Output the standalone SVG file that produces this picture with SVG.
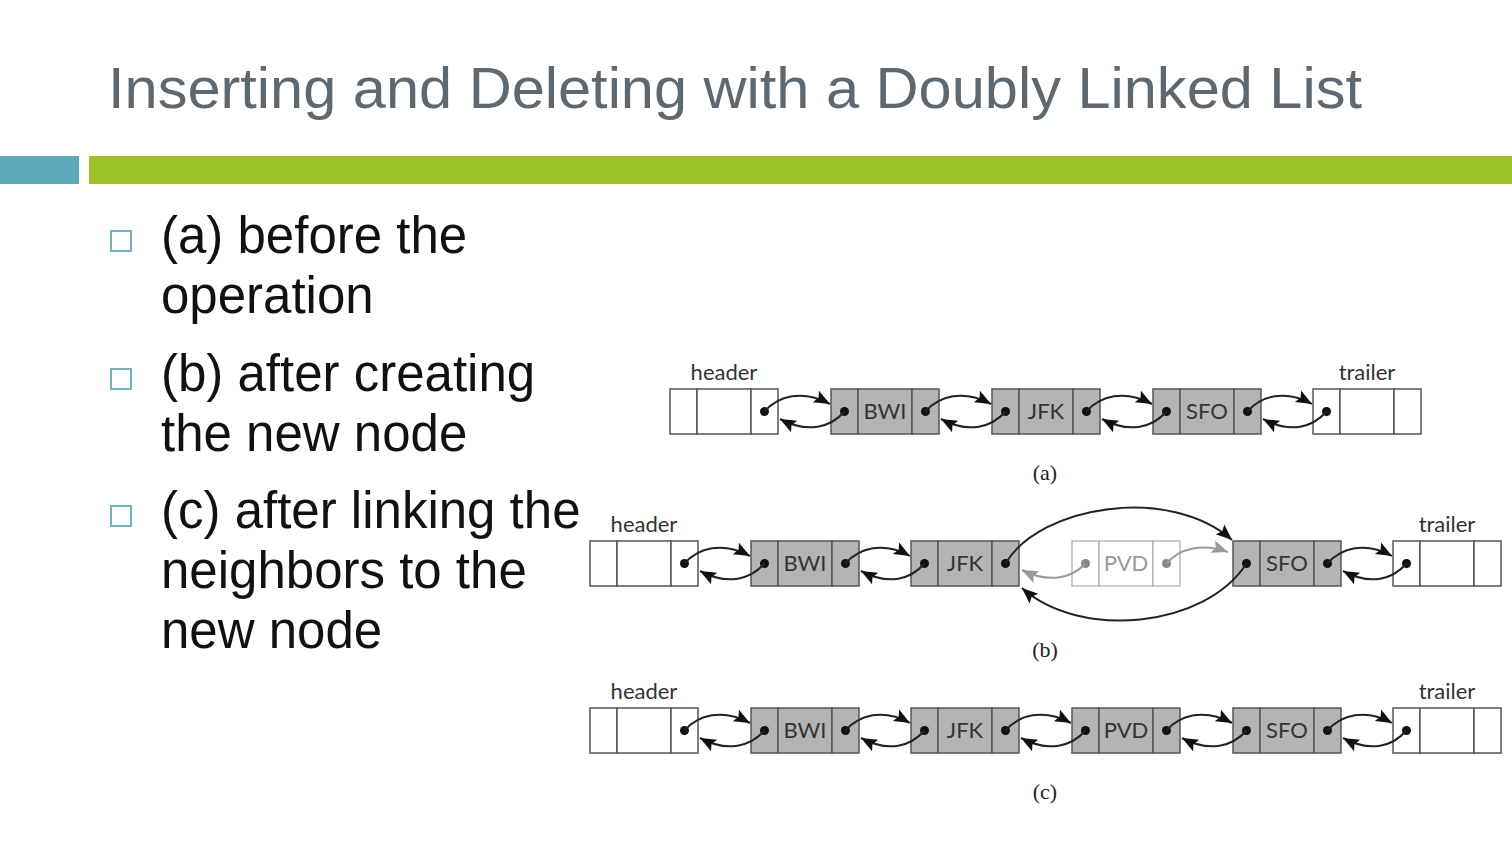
<svg xmlns="http://www.w3.org/2000/svg" width="1512" height="847" viewBox="0 0 1512 847">
  <defs>
    <style>
      .title { font-family: "Liberation Sans", Arial, sans-serif; font-size: 58px; fill: #5d6870; }
      .bullet { font-family: "Liberation Sans", Arial, sans-serif; font-size: 51px; fill: #111; }
      .box { fill: none; stroke: #6fb3bb; stroke-width: 2; }
      .cell { fill: #fff; stroke: #555; stroke-width: 1.5; }
      .full { fill: #b4b4b4; stroke: #555; stroke-width: 1.5; }
      .ghost { fill: #fff; stroke: #aaa; stroke-width: 1.2; }
      .lbl { font-family: Lato, "Noto Sans", sans-serif; font-size: 22px; fill: #333; text-anchor: middle; }
      .glbl { font-family: Lato, "Noto Sans", sans-serif; font-size: 22px; fill: #999; text-anchor: middle; }
      .cap { font-family: "Liberation Serif", serif; font-size: 22px; fill: #222; text-anchor: middle; }
      .dot { fill: #111; }
      .gdot { fill: #888; }
      .link { fill: none; stroke: #222; stroke-width: 2; marker-end: url(#ah); }
      .glink { fill: none; stroke: #999; stroke-width: 2; marker-end: url(#gah); }
    </style>
    <marker id="ah" viewBox="-17 -8 18 16" refX="0" refY="0" markerWidth="18" markerHeight="16" markerUnits="userSpaceOnUse" orient="auto">
      <path d="M0,0 L-16,-6.5 L-13,0 L-16,6.5 z" fill="#111"/>
    </marker>
    <marker id="gah" viewBox="-17 -8 18 16" refX="0" refY="0" markerWidth="18" markerHeight="16" markerUnits="userSpaceOnUse" orient="auto">
      <path d="M0,0 L-16,-6.5 L-13,0 L-16,6.5 z" fill="#999"/>
    </marker>
  </defs>

  <rect width="1512" height="847" fill="#fff"/>

  <!-- slide heading and rule bars -->
  <text class="title" x="108" y="108" textLength="1254" lengthAdjust="spacingAndGlyphs">Inserting and Deleting with a Doubly Linked List</text>
  <rect x="0" y="156" width="79" height="28" fill="#5aaab8"/>
  <rect x="89" y="156" width="1423" height="28" fill="#9cc426"/>

  <!-- bullet list -->
  <g id="bullets">
    <rect class="box" x="111" y="231" width="20" height="20"/>
    <text class="bullet" x="161" y="253">(a) before the</text>
    <text class="bullet" x="161" y="313">operation</text>
    <rect class="box" x="111" y="369" width="20" height="20"/>
    <text class="bullet" x="161" y="391">(b) after creating</text>
    <text class="bullet" x="161" y="451">the new node</text>
    <rect class="box" x="111" y="506" width="20" height="20"/>
    <text class="bullet" x="161" y="528">(c) after linking the</text>
    <text class="bullet" x="161" y="588">neighbors to the</text>
    <text class="bullet" x="161" y="648">new node</text>
  </g>

  <!-- ===== row (a) ===== -->
  <g id="a-header">
    <text class="lbl" x="724" y="380">header</text>
    <rect class="cell" x="670" y="389" width="27" height="45"/>
    <rect class="cell" x="697" y="389" width="54" height="45"/>
    <rect class="cell" x="751" y="389" width="27" height="45"/>
    <circle class="dot" cx="764.5" cy="411.5" r="4.5"/>
  </g>
  <g id="a-bwi">
    <rect class="full" x="831" y="389" width="27" height="45"/>
    <rect class="full" x="858" y="389" width="54" height="45"/>
    <rect class="full" x="912" y="389" width="27" height="45"/>
    <circle class="dot" cx="844.5" cy="411.5" r="4.5"/>
    <circle class="dot" cx="925.5" cy="411.5" r="4.5"/>
    <text class="lbl" x="885" y="419">BWI</text>
  </g>
  <g id="a-jfk">
    <rect class="full" x="992" y="389" width="27" height="45"/>
    <rect class="full" x="1019" y="389" width="54" height="45"/>
    <rect class="full" x="1073" y="389" width="27" height="45"/>
    <circle class="dot" cx="1005.5" cy="411.5" r="4.5"/>
    <circle class="dot" cx="1086.5" cy="411.5" r="4.5"/>
    <text class="lbl" x="1046" y="419">JFK</text>
  </g>
  <g id="a-sfo">
    <rect class="full" x="1153" y="389" width="27" height="45"/>
    <rect class="full" x="1180" y="389" width="54" height="45"/>
    <rect class="full" x="1234" y="389" width="27" height="45"/>
    <circle class="dot" cx="1166.5" cy="411.5" r="4.5"/>
    <circle class="dot" cx="1247.5" cy="411.5" r="4.5"/>
    <text class="lbl" x="1207" y="419">SFO</text>
  </g>
  <g id="a-trailer">
    <text class="lbl" x="1367" y="380">trailer</text>
    <rect class="cell" x="1313" y="389" width="27" height="45"/>
    <rect class="cell" x="1340" y="389" width="54" height="45"/>
    <rect class="cell" x="1394" y="389" width="27" height="45"/>
    <circle class="dot" cx="1326.5" cy="411.5" r="4.5"/>
  </g>
  <g id="a-links">
    <path class="link" d="M764.5,411.5 C778,396 802,389 830,404"/>
    <path class="link" d="M844.5,411.5 C831,427 808,434 780,419"/>
    <path class="link" d="M925.5,411.5 C939,396 963,389 991,404"/>
    <path class="link" d="M1005.5,411.5 C992,427 969,434 941,419"/>
    <path class="link" d="M1086.5,411.5 C1100,396 1124,389 1152,404"/>
    <path class="link" d="M1166.5,411.5 C1153,427 1130,434 1102,419"/>
    <path class="link" d="M1247.5,411.5 C1261,396 1285,389 1312,404"/>
    <path class="link" d="M1326.5,411.5 C1313,427 1291,434 1263,419"/>
  </g>
  <text class="cap" x="1045" y="480">(a)</text>

  <!-- ===== row (b) ===== -->
  <g id="b-header">
    <text class="lbl" x="644" y="532">header</text>
    <rect class="cell" x="590" y="541" width="27" height="45"/>
    <rect class="cell" x="617" y="541" width="54" height="45"/>
    <rect class="cell" x="671" y="541" width="27" height="45"/>
    <circle class="dot" cx="684.5" cy="563.5" r="4.5"/>
  </g>
  <g id="b-bwi">
    <rect class="full" x="751" y="541" width="27" height="45"/>
    <rect class="full" x="778" y="541" width="54" height="45"/>
    <rect class="full" x="832" y="541" width="27" height="45"/>
    <circle class="dot" cx="764.5" cy="563.5" r="4.5"/>
    <circle class="dot" cx="845.5" cy="563.5" r="4.5"/>
    <text class="lbl" x="805" y="571">BWI</text>
  </g>
  <g id="b-jfk">
    <rect class="full" x="911" y="541" width="27" height="45"/>
    <rect class="full" x="938" y="541" width="54" height="45"/>
    <rect class="full" x="992" y="541" width="27" height="45"/>
    <circle class="dot" cx="924.5" cy="563.5" r="4.5"/>
    <circle class="dot" cx="1005.5" cy="563.5" r="4.5"/>
    <text class="lbl" x="965" y="571">JFK</text>
  </g>
  <g id="b-pvd">
    <rect class="ghost" x="1072" y="541" width="27" height="45"/>
    <rect class="ghost" x="1099" y="541" width="54" height="45"/>
    <rect class="ghost" x="1153" y="541" width="27" height="45"/>
    <circle class="gdot" cx="1085.5" cy="563.5" r="4.5"/>
    <circle class="gdot" cx="1166.5" cy="563.5" r="4.5"/>
    <text class="glbl" x="1126" y="571">PVD</text>
  </g>
  <g id="b-sfo">
    <rect class="full" x="1233" y="541" width="27" height="45"/>
    <rect class="full" x="1260" y="541" width="54" height="45"/>
    <rect class="full" x="1314" y="541" width="27" height="45"/>
    <circle class="dot" cx="1246.5" cy="563.5" r="4.5"/>
    <circle class="dot" cx="1327.5" cy="563.5" r="4.5"/>
    <text class="lbl" x="1287" y="571">SFO</text>
  </g>
  <g id="b-trailer">
    <text class="lbl" x="1447" y="532">trailer</text>
    <rect class="cell" x="1393" y="541" width="27" height="45"/>
    <rect class="cell" x="1420" y="541" width="54" height="45"/>
    <rect class="cell" x="1474" y="541" width="27" height="45"/>
    <circle class="dot" cx="1406.5" cy="563.5" r="4.5"/>
  </g>
  <g id="b-links">
    <path class="link" d="M684.5,563.5 C698,548 722,541 750,556"/>
    <path class="link" d="M764.5,563.5 C751,579 728,586 700,571"/>
    <path class="link" d="M845.5,563.5 C859,548 883,541 910,556"/>
    <path class="link" d="M924.5,563.5 C911,579 889,586 861,571"/>
    <path class="link" d="M1005.5,563.5 C1040,505 1170,485 1232,540"/>
    <path class="link" d="M1246.5,563.5 C1205,628 1080,640 1022,588"/>
    <path class="glink" d="M1085.5,563.5 C1071,579 1048,583 1022,570"/>
    <path class="glink" d="M1166.5,563.5 C1180,548 1203,543 1228,552"/>
    <path class="link" d="M1327.5,563.5 C1341,548 1365,541 1392,556"/>
    <path class="link" d="M1406.5,563.5 C1393,579 1371,586 1343,571"/>
  </g>
  <text class="cap" x="1045" y="657">(b)</text>

  <!-- ===== row (c) ===== -->
  <g id="c-header">
    <text class="lbl" x="644" y="699">header</text>
    <rect class="cell" x="590" y="708" width="27" height="45"/>
    <rect class="cell" x="617" y="708" width="54" height="45"/>
    <rect class="cell" x="671" y="708" width="27" height="45"/>
    <circle class="dot" cx="684.5" cy="730.5" r="4.5"/>
  </g>
  <g id="c-bwi">
    <rect class="full" x="751" y="708" width="27" height="45"/>
    <rect class="full" x="778" y="708" width="54" height="45"/>
    <rect class="full" x="832" y="708" width="27" height="45"/>
    <circle class="dot" cx="764.5" cy="730.5" r="4.5"/>
    <circle class="dot" cx="845.5" cy="730.5" r="4.5"/>
    <text class="lbl" x="805" y="738">BWI</text>
  </g>
  <g id="c-jfk">
    <rect class="full" x="911" y="708" width="27" height="45"/>
    <rect class="full" x="938" y="708" width="54" height="45"/>
    <rect class="full" x="992" y="708" width="27" height="45"/>
    <circle class="dot" cx="924.5" cy="730.5" r="4.5"/>
    <circle class="dot" cx="1005.5" cy="730.5" r="4.5"/>
    <text class="lbl" x="965" y="738">JFK</text>
  </g>
  <g id="c-pvd">
    <rect class="full" x="1072" y="708" width="27" height="45"/>
    <rect class="full" x="1099" y="708" width="54" height="45"/>
    <rect class="full" x="1153" y="708" width="27" height="45"/>
    <circle class="dot" cx="1085.5" cy="730.5" r="4.5"/>
    <circle class="dot" cx="1166.5" cy="730.5" r="4.5"/>
    <text class="lbl" x="1126" y="738">PVD</text>
  </g>
  <g id="c-sfo">
    <rect class="full" x="1233" y="708" width="27" height="45"/>
    <rect class="full" x="1260" y="708" width="54" height="45"/>
    <rect class="full" x="1314" y="708" width="27" height="45"/>
    <circle class="dot" cx="1246.5" cy="730.5" r="4.5"/>
    <circle class="dot" cx="1327.5" cy="730.5" r="4.5"/>
    <text class="lbl" x="1287" y="738">SFO</text>
  </g>
  <g id="c-trailer">
    <text class="lbl" x="1447" y="699">trailer</text>
    <rect class="cell" x="1393" y="708" width="27" height="45"/>
    <rect class="cell" x="1420" y="708" width="54" height="45"/>
    <rect class="cell" x="1474" y="708" width="27" height="45"/>
    <circle class="dot" cx="1406.5" cy="730.5" r="4.5"/>
  </g>
  <g id="c-links">
    <path class="link" d="M684.5,730.5 C698,715 722,708 750,723"/>
    <path class="link" d="M764.5,730.5 C751,746 728,753 700,738"/>
    <path class="link" d="M845.5,730.5 C859,715 883,708 910,723"/>
    <path class="link" d="M924.5,730.5 C911,746 889,753 861,738"/>
    <path class="link" d="M1005.5,730.5 C1019,715 1043,708 1071,723"/>
    <path class="link" d="M1085.5,730.5 C1072,746 1049,753 1021,738"/>
    <path class="link" d="M1166.5,730.5 C1180,715 1204,708 1232,723"/>
    <path class="link" d="M1246.5,730.5 C1233,746 1210,753 1182,738"/>
    <path class="link" d="M1327.5,730.5 C1341,715 1365,708 1392,723"/>
    <path class="link" d="M1406.5,730.5 C1393,746 1371,753 1343,738"/>
  </g>
  <text class="cap" x="1045" y="799">(c)</text>
</svg>
